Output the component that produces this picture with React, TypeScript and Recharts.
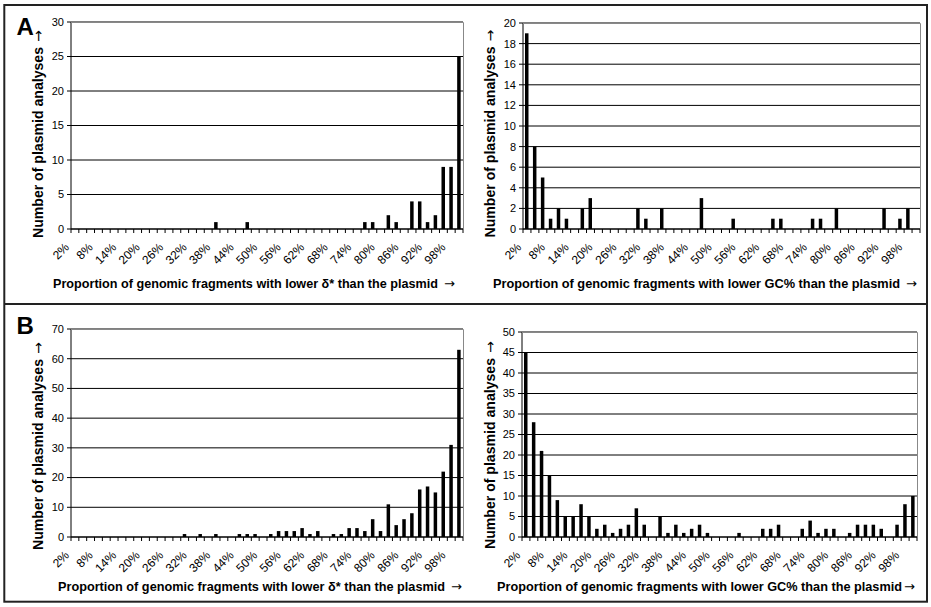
import React from 'react';
import { BarChart, Bar, XAxis, YAxis, CartesianGrid } from 'recharts';

// 50 bins, labelled every third bin on the axis
const categories = [
  '2%', '4%', '6%', '8%', '10%', '12%', '14%', '16%', '18%', '20%',
  '22%', '24%', '26%', '28%', '30%', '32%', '34%', '36%', '38%', '40%',
  '42%', '44%', '46%', '48%', '50%', '52%', '54%', '56%', '58%', '60%',
  '62%', '64%', '66%', '68%', '70%', '72%', '74%', '76%', '78%', '80%',
  '82%', '84%', '86%', '88%', '90%', '92%', '94%', '96%', '98%', '100%',
];

// A: delta* (left) and GC% (right)
const deltaA = [
  0, 0, 0, 0, 0, 0, 0, 0, 0, 0,
  0, 0, 0, 0, 0, 0, 0, 0, 1, 0,
  0, 0, 1, 0, 0, 0, 0, 0, 0, 0,
  0, 0, 0, 0, 0, 0, 0, 1, 1, 0,
  2, 1, 0, 4, 4, 1, 2, 9, 9, 25,
];
const gcA = [
  19, 8, 5, 1, 2, 1, 0, 2, 3, 0,
  0, 0, 0, 0, 2, 1, 0, 2, 0, 0,
  0, 0, 3, 0, 0, 0, 1, 0, 0, 0,
  0, 1, 1, 0, 0, 0, 1, 1, 0, 2,
  0, 0, 0, 0, 0, 2, 0, 1, 2, 0,
];

// B: delta* (left) and GC% (right)
const deltaB = [
  0, 0, 0, 0, 0, 0, 0, 0, 0, 0,
  0, 0, 0, 0, 1, 0, 1, 0, 1, 0,
  0, 1, 1, 1, 0, 1, 2, 2, 2, 3,
  1, 2, 0, 1, 1, 3, 3, 2, 6, 2,
  11, 4, 6, 8, 16, 17, 15, 22, 31, 63,
];
const gcB = [
  45, 28, 21, 15, 9, 5, 5, 8, 5, 2,
  3, 1, 2, 3, 7, 3, 0, 5, 1, 3,
  1, 2, 3, 1, 0, 0, 0, 1, 0, 0,
  2, 2, 3, 0, 0, 2, 4, 1, 2, 2,
  0, 1, 3, 3, 3, 2, 0, 3, 8, 10,
];

const ticksA1 = [0, 5, 10, 15, 20, 25, 30];
const ticksA2 = [0, 2, 4, 6, 8, 10, 12, 14, 16, 18, 20];
const ticksB1 = [0, 10, 20, 30, 40, 50, 60, 70];
const ticksB2 = [0, 5, 10, 15, 20, 25, 30, 35, 40, 45, 50];

const yTitle = 'Number of plasmid analyses';
const xTitleDelta = 'Proportion of genomic fragments with lower \u03b4* than the plasmid';
const xTitleGc = 'Proportion of genomic fragments with lower GC% than the plasmid';
const ARROW = '\u2192';

const W = 931;
const H = 607;
const FONT = '"Liberation Sans", Arial, Helvetica, sans-serif';
const ARROW_FONT = '"DejaVu Sans", sans-serif';
const AXIS_W = 30;
const AXIS_H = 30;

// xx/xw: x-title start and full width (arrow included), gap: room left for the arrow
const panels = [
  { id: 'a1', values: deltaA, ticks: ticksA1, l: 71, r: 463, t: 22, b: 229,
    xTitle: xTitleDelta, xx: 53, xy: 288, xw: 402, gap: 17, yx: 42.7, yy: 134 },
  { id: 'a2', values: gcA, ticks: ticksA2, l: 523, r: 920, t: 23, b: 229,
    xTitle: xTitleGc, xx: 493, xy: 288, xw: 424, gap: 17, yx: 495, yy: 133.5 },
  { id: 'b1', values: deltaB, ticks: ticksB1, l: 71, r: 463, t: 329, b: 537,
    xTitle: xTitleDelta, xx: 58, xy: 591, xw: 404, gap: 17, yx: 42.7, yy: 446 },
  { id: 'b2', values: gcB, ticks: ticksB2, l: 522, r: 917, t: 332, b: 537,
    xTitle: xTitleGc, xx: 497, xy: 591, xw: 418, gap: 13, yx: 495, yy: 445 },
];

const XTick = (props: any) => {
  const { x, index, payload, axisY, bw } = props;
  const left = x - bw / 2;
  const px = x - 5;
  const py = axisY + 19;
  return (
    <g>
      <line x1={left} y1={axisY} x2={left} y2={axisY + 4} stroke="#000" />
      {index === categories.length - 1 && (
        <line x1={x + bw / 2} y1={axisY} x2={x + bw / 2} y2={axisY + 4} stroke="#000" />
      )}
      {index % 3 === 0 && (
        <text
          x={px}
          y={py}
          textAnchor="end"
          transform={`rotate(-45 ${px} ${py})`}
          fontSize={12}
          fontFamily={FONT}
          fill="#000"
        >
          {payload.value}
        </text>
      )}
    </g>
  );
};

const Panel = ({ p }: { p: any }) => {
  const rows = categories.map((c, i) => ({ cat: c, v: p.values[i] }));
  const bw = (p.r - p.l) / categories.length;
  const max = p.ticks[p.ticks.length - 1];
  return (
    <div style={{ position: 'absolute', left: 0, top: 0 }}>
      <BarChart
        width={W}
        height={H}
        data={rows}
        margin={{ top: p.t, right: W - p.r, bottom: H - p.b - AXIS_H, left: p.l - AXIS_W }}
      >
        <CartesianGrid vertical={false} stroke="#000" />
        <XAxis
          dataKey="cat"
          height={AXIS_H}
          interval={0}
          axisLine={{ stroke: '#000' }}
          tickLine={false}
          tick={(tp: any) => <XTick {...tp} axisY={p.b} bw={bw} />}
        />
        <YAxis
          width={AXIS_W}
          domain={[0, max]}
          ticks={p.ticks}
          interval={0}
          tickSize={4}
          tickMargin={3}
          axisLine={{ stroke: '#000' }}
          tickLine={{ stroke: '#000' }}
          tick={{ fontSize: 11, fill: '#000', fontFamily: FONT }}
        />
        <Bar dataKey="v" fill="#000" barSize={3.5} isAnimationActive={false} />
      </BarChart>
    </div>
  );
};

const Titles = ({ p }: { p: any }) => {
  const yBottom = p.yy + 104;
  const yTop = p.yy - 104;
  return (
    <g>
      <polyline
        points={`${p.l},${p.t + 0.5} ${p.r + 0.5},${p.t + 0.5} ${p.r + 0.5},${p.b}`}
        fill="none"
        stroke="#888"
        strokeWidth={1}
      />
      <text
        x={p.yx}
        y={yBottom}
        transform={`rotate(-90 ${p.yx} ${yBottom})`}
        fontSize={14}
        fontWeight="bold"
        fontFamily={FONT}
        fill="#000"
        textLength={191}
        lengthAdjust="spacingAndGlyphs"
      >
        {yTitle}
      </text>
      <text
        x={p.yx}
        y={yTop}
        textAnchor="end"
        transform={`rotate(-90 ${p.yx} ${yTop})`}
        fontSize={14}
        fontFamily={ARROW_FONT}
        fill="#000"
      >
        {ARROW}
      </text>
      <text
        x={p.xx}
        y={p.xy}
        fontSize={12.4}
        fontWeight="bold"
        fontFamily={FONT}
        fill="#000"
        textLength={p.xw - p.gap}
        lengthAdjust="spacingAndGlyphs"
      >
        {p.xTitle}
      </text>
      <text
        x={p.xx + p.xw}
        y={p.xy}
        textAnchor="end"
        fontSize={13}
        fontFamily={ARROW_FONT}
        fill="#000"
      >
        {ARROW}
      </text>
    </g>
  );
};

export default function App() {
  return (
    <div style={{ position: 'absolute', left: 0, top: 0, width: W, height: H, background: '#fff', fontFamily: FONT }}>
      {panels.map((p) => (
        <Panel key={p.id} p={p} />
      ))}
      <svg width={W} height={H} style={{ position: 'absolute', left: 0, top: 0, pointerEvents: 'none' }}>
        <rect x={4.3} y={5} width={922.7} height={596.7} fill="none" stroke="#222" strokeWidth={2} />
        <line x1={4} y1={304} x2={927} y2={304} stroke="#222" strokeWidth={2} />
        {panels.map((p) => (
          <Titles key={p.id} p={p} />
        ))}
        <text x={16.5} y={35} fontSize={24} fontWeight="bold" fontFamily={FONT} fill="#000">A</text>
        <text x={16.5} y={333.5} fontSize={24} fontWeight="bold" fontFamily={FONT} fill="#000">B</text>
      </svg>
    </div>
  );
}
